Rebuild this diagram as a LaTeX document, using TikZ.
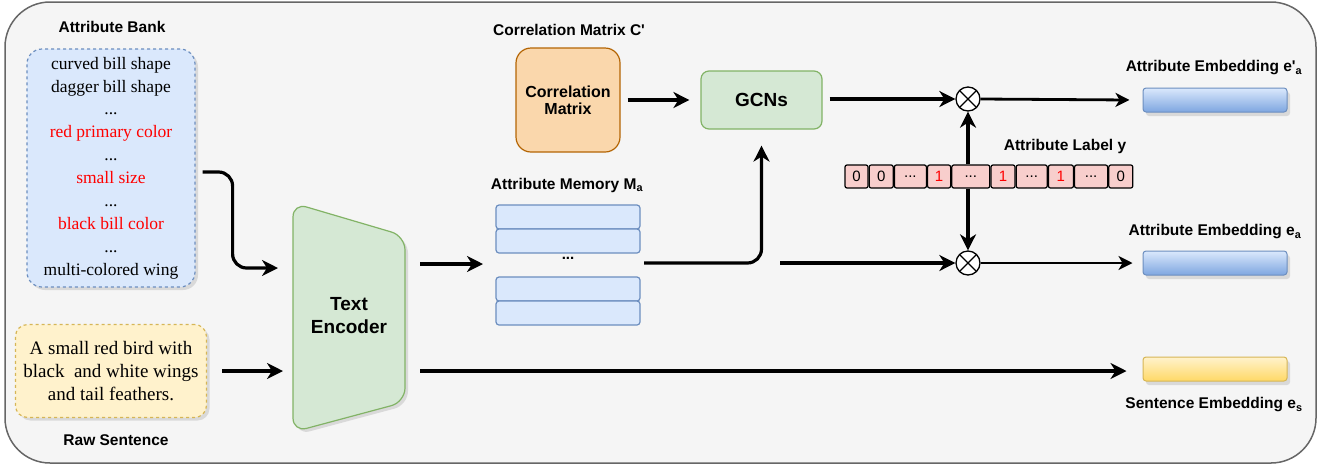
\documentclass[tikz,border=0pt]{standalone}
\usepackage{fontspec}
\setmainfont{Liberation Serif}
\setsansfont{Liberation Sans}
\newfontfamily\plainsans{Liberation Sans}
\usetikzlibrary{arrows.meta,shadows,positioning}
\definecolor{framefill}{HTML}{F5F5F5}
\definecolor{framedraw}{HTML}{666666}
\definecolor{bluefill}{HTML}{DAE8FC}
\definecolor{bluedraw}{HTML}{6C8EBF}
\definecolor{bluedark}{HTML}{7EA6E0}
\definecolor{yellowfill}{HTML}{FFF2CC}
\definecolor{yellowdraw}{HTML}{D6B656}
\definecolor{yellowdark}{HTML}{FFD966}
\definecolor{greenfill}{HTML}{D5E8D4}
\definecolor{greendraw}{HTML}{82B366}
\definecolor{orangefill}{HTML}{FAD7AC}
\definecolor{orangedraw}{HTML}{B46504}
\definecolor{redfill}{HTML}{F8CECC}
\tikzset{
     frame/.style = { fill=framefill, draw=framedraw, line width=1.5pt, rounded corners=45pt },
     title/.style = { font=\plainsans\bfseries\fontsize{15.5}{18}\selectfont, align=center },
   bankbox/.style = { draw=bluedraw, fill=bluefill, dashed, line width=1.2pt, rounded corners=15pt,
                      minimum width=168pt, minimum height=238pt, align=center,
                      font=\fontsize{17.5}{22.9}\selectfont,
                      drop shadow={shadow xshift=3pt, shadow yshift=-3pt, fill=black!25} },
   sentbox/.style = { draw=yellowdraw, fill=yellowfill, dashed, line width=1.2pt, rounded corners=12pt,
                      minimum width=191pt, minimum height=93pt, align=center,
                      font=\fontsize{19}{23}\selectfont,
                      drop shadow={shadow xshift=3pt, shadow yshift=-3pt, fill=black!25} },
   encoder/.style = { draw=greendraw, fill=greenfill, line width=1.2pt, rounded corners=14pt,
                      drop shadow={shadow xshift=3pt, shadow yshift=-3pt, fill=black!25} },
    membar/.style = { draw=bluedraw, fill=bluefill, line width=1.2pt, rounded corners=3pt,
                      minimum width=144pt, minimum height=24pt },
   corrbox/.style = { draw=orangedraw, fill=orangefill, line width=1.2pt, rounded corners=15pt,
                      minimum width=104pt, minimum height=104pt, align=center,
                      font=\sffamily\bfseries\fontsize{16}{17}\selectfont },
    gcnbox/.style = { draw=greendraw, fill=greenfill, line width=1.2pt, rounded corners=8pt,
                      minimum width=121pt, minimum height=58pt,
                      font=\sffamily\bfseries\fontsize{19}{21}\selectfont },
   mulnode/.style = { circle, draw, line width=1.3pt, fill=white, minimum size=24pt, inner sep=0pt,
                      path picture={
                        \draw[line width=1.3pt] (path picture bounding box.north west) -- (path picture bounding box.south east);
                        \draw[line width=1.3pt] (path picture bounding box.north east) -- (path picture bounding box.south west);
                      } },
      cell/.style = { draw, fill=redfill, line width=1.2pt, rounded corners=2pt, minimum height=23pt,
                      inner sep=0pt, font=\sffamily\fontsize{15}{17}\selectfont },
    embbar/.style = { draw=bluedraw, top color=bluefill, bottom color=bluedark, line width=1pt,
                      rounded corners=3pt, minimum width=144pt, minimum height=24pt,
                      drop shadow={shadow xshift=3pt, shadow yshift=-4pt, fill=black!25} },
    sembar/.style = { draw=yellowdraw, top color=yellowfill, bottom color=yellowdark, line width=1pt,
                      rounded corners=3pt, minimum width=144pt, minimum height=24pt,
                      drop shadow={shadow xshift=3pt, shadow yshift=-4pt, fill=black!25} },
     arrow/.style = { line width=3.2pt, -{Stealth[length=16pt,width=16pt,inset=5pt]} },
 thinarrow/.style = { line width=2.8pt, -{Stealth[length=14pt,width=14pt,inset=4pt]} },
}

\begin{document}
\begin{tikzpicture}[x=1pt,y=-1pt]
  \useasboundingbox (0,0) rectangle (1325,467);
  \draw[frame] (5,2) rectangle (1316,463);

  % inputs
  \node[title] (banklbl) at (112,27) {Attribute Bank};
  \node[bankbox] (bank) at (111,168) {curved bill shape\\dagger bill shape\\...\\
    \textcolor{red}{red primary color}\\...\\\textcolor{red}{small size}\\...\\
    \textcolor{red}{black bill color}\\...\\multi-colored wing};
  \node[sentbox] (sent) at (111,371) {A small red bird with\\black~ and white wings\\and tail feathers.};
  \node[title] (sentlbl) at (116,440) {Raw Sentence};

  % text encoder
  \draw[encoder] (293,203) -- (405,236) -- (405,402) -- (293,432) -- cycle;
  \node[title, font=\sffamily\bfseries\fontsize{19}{23}\selectfont] (enc) at (349,316) {Text\\Encoder};
  \coordinate (encin1) at (293,268);
  \coordinate (encin2) at (293,371);
  \coordinate (encout1) at (405,264);
  \coordinate (encout2) at (405,371);

  \draw[arrow, rounded corners=14pt] ([xshift=7pt]bank.east |- 0,172) -- ++(30,0) |- ([xshift=-15pt]encin1);
  \draw[arrow] ([xshift=15pt]sent.east) -- ([xshift=-10pt]encin2);

  % attribute memory
  \node[title] (memlbl) at (567,185) {Attribute Memory M\textsubscript{a}};
  \node[membar] (mem1) at (568,217) {};
  \node[membar] (mem2) at (568,241) {};
  \node[font=\sffamily\bfseries\fontsize{15}{17}\selectfont] (dots) at (568,258) {...};
  \node[membar] (mem3) at (568,289) {};
  \node[membar] (mem4) at (568,313) {};
  \coordinate (memin) at (496,264);
  \coordinate (memout) at (644,263);
  \draw[arrow] ([xshift=15pt]encout1) -- ([xshift=-13pt]memin);

  % correlation and GCNs
  \node[title] (corrlbl) at (569,30) {Correlation Matrix C'};
  \node[corrbox] (corr) at (568,100) {Correlation\\Matrix};
  \node[gcnbox] (gcn) at (761.5,100) {GCNs};
  \draw[arrow] ([xshift=7pt]corr.east) -- ([xshift=-11pt]gcn.west);
  \draw[arrow, rounded corners=14pt] (memout) -| ([yshift=-16pt]gcn.south);

  % attribute label vector
  \node[cell, minimum width=23pt] (c1) at (856.5,176.5) {0};
  \node[cell, minimum width=24pt, right=0pt of c1] (c2) {0};
  \node[cell, minimum width=32pt, right=0pt of c2] (c3) {...};
  \node[cell, minimum width=23pt, right=0pt of c3, text=red] (c4) {1};
  \node[cell, minimum width=38pt, right=0pt of c4] (c5) {...};
  \node[cell, minimum width=24pt, right=0pt of c5, text=red] (c6) {1};
  \node[cell, minimum width=31pt, right=0pt of c6] (c7) {...};
  \node[cell, minimum width=25pt, right=0pt of c7, text=red] (c8) {1};
  \node[cell, minimum width=33pt, right=0pt of c8] (c9) {...};
  \node[cell, minimum width=24pt, right=0pt of c9] (c10) {0};
  \node[title] (ylbl) at (1065,146) {Attribute Label y};

  % multiplications
  \node[mulnode] (mul1) at (968,99) {};
  \node[mulnode] (mul2) at (968,263) {};
  \coordinate (branch) at (780,263);
  \draw[arrow] ([xshift=7pt]gcn.east |- mul1) -- (mul1.west);
  \draw[arrow] (branch) -- (mul2.west);
  \draw[arrow] (c5.north -| mul1) -- (mul1.south);
  \draw[arrow] (c5.south -| mul2) -- (mul2.north);

  % outputs
  \node[embbar] (emb1) at (1215,100) {};
  \node[embbar] (emb2) at (1215,263) {};
  \node[sembar] (semb) at (1215,369) {};
  \node[title] (emb1lbl) at (1214,68) {Attribute Embedding e'\textsubscript{a}};
  \node[title] (emb2lbl) at (1215,232) {Attribute Embedding e\textsubscript{a}};
  \node[title] (semblbl) at (1214,405) {Sentence Embedding e\textsubscript{s}};
  \draw[thinarrow] (mul1.east) -- ([xshift=-13pt]emb1.west);
  \draw[thinarrow] (mul2.east) -- ([xshift=-10pt]emb2.west);
  \draw[arrow] ([xshift=15pt]encout2) -- ([xshift=-16pt]semb.west |- encout2);

\end{tikzpicture}
\end{document}
